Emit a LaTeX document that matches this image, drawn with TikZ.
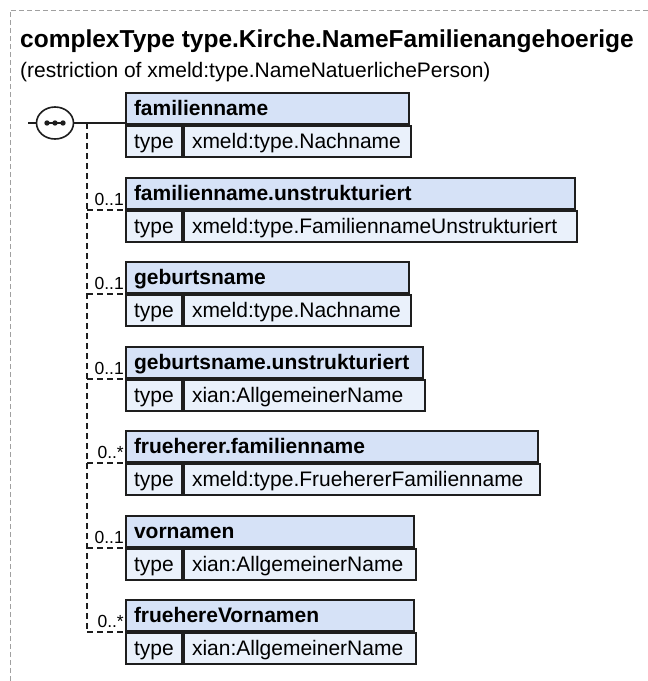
\documentclass[tikz,border=0pt]{standalone}
\usepackage{fontspec}
\setmainfont{Liberation Sans}
\usetikzlibrary{positioning,shapes.geometric,calc}
\definecolor{xhead}{HTML}{D6E2F7}
\definecolor{xrow}{HTML}{EAF1FB}
\definecolor{xline}{HTML}{1E1E1E}
\definecolor{xframe}{HTML}{A0A0A0}

\tikzset{
  boxfont/.style={font=\fontsize{21}{24}\selectfont},
  cell/.style={boxfont, draw=xline, line width=2pt, rectangle, anchor=north west,
    inner xsep=8pt, inner ysep=5pt, text height=17.5pt, text depth=3.5pt,
    minimum height=31pt, align=left},
  headcell/.style={cell, fill=xhead, font=\fontsize{21}{24}\selectfont\bfseries},
  typecell/.style={cell, fill=xrow},
  conn/.style={draw=xline, line width=1.5pt},
  optconn/.style={conn, dash pattern=on 6pt off 4pt},
  mult/.style={font=\fontsize{17.5}{20}\selectfont, inner sep=0pt, anchor=base east}
}

% one element box: name, top, width, title, type
\newcommand{\elembox}[5]{%
  \pgfmathsetmacro\hdw{#3-16}%
  \pgfmathsetmacro\valw{#3-56}%
  \pgfmathsetmacro\valtw{#3-72}%
  \node[headcell, minimum width=#3pt, text width=\hdw pt] (#1) at (125,#2) {#4};
  \node[typecell, minimum width=56pt, text width=40pt] (#1-k) at (#1.south west) {type};
  \node[typecell, minimum width=\valw pt, text width=\valtw pt] (#1-v) at (#1-k.north east) {#5};
}

\begin{document}
\begin{tikzpicture}[x=1pt,y=-1pt]
  \useasboundingbox (0,0) rectangle (648,681);
  \draw[xframe, line width=1pt, dash pattern=on 5pt off 3pt] (10,681) -- (10,10) -- (648,10);

  \node[anchor=base west, inner sep=0pt, font=\fontsize{24.5}{28}\selectfont\bfseries] (title) at (20,47)
    {complexType type.Kirche.NameFamilienangehoerige};
  \node[anchor=base west, inner sep=0pt, font=\fontsize{21}{24}\selectfont] (subtitle) at (20,77)
    {(restriction of xmeld:type.NameNatuerlichePerson)};

  \elembox{e1}{92}{283}{familienname}{xmeld:type.Nachname}
  \elembox{e2}{177}{449}{familienname.unstrukturiert}{xmeld:type.FamiliennameUnstrukturiert}
  \elembox{e3}{261}{283}{geburtsname}{xmeld:type.Nachname}
  \elembox{e4}{346}{297}{geburtsname.unstrukturiert}{xian:AllgemeinerName}
  \elembox{e5}{430}{412}{frueherer.familienname}{xmeld:type.FruehererFamilienname}
  \elembox{e6}{515}{288}{vornamen}{xian:AllgemeinerName}
  \elembox{e7}{599}{288}{fruehereVornamen}{xian:AllgemeinerName}

  % sequence compositor
  \coordinate (lead) at (28,123);
  \node[ellipse, draw=xline, line width=1.6pt, fill=white, minimum width=37pt, minimum height=32pt,
    inner sep=0pt] (seq) at (55,123) {};
  \draw[conn] (lead) -- (seq.west);
  \draw[conn] (seq.east) -- (seq.east -| e1.west);
  \draw[conn] ([xshift=-9pt]seq.center) -- ([xshift=9pt]seq.center);
  \foreach \dx in {-8,0,8}
    \fill[xline] ([xshift=\dx pt]seq.center) circle (2.7pt);

  % optional children
  \coordinate (spine) at (87,123);
  \draw[optconn] (spine) -- (spine |- e7.south west);
  \foreach \e/\m in {e2/0..1, e3/0..1, e4/0..1, e5/0..*, e6/0..1, e7/0..*} {
    \draw[optconn] (spine |- \e.south west) -- (\e.south west);
    \node[mult] (\e-m) at ([xshift=-1pt,yshift=5pt]\e.south west) {\m};
  }
\end{tikzpicture}
\end{document}
